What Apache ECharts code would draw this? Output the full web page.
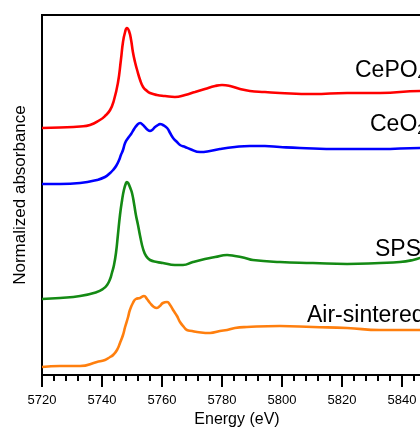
<!DOCTYPE html>
<html><head><meta charset="utf-8">
<script src="https://cdn.jsdelivr.net/npm/echarts@6/dist/echarts.min.js"></script>
<style>html,body{margin:0;padding:0;background:#fff}#c{width:420px;height:428px}</style>
</head><body><div id="c"></div>
<script>
// Energy (eV) and offset normalized absorbance (a.u.) for each spectrum
const cepo4Energy = [5720,5726,5732.7,5736,5739.3,5741,5742.7,5744,5745.3,5746.3,5747,5747.7,5748.3,5749,5749.7,5750.3,5751,5751.7,5752.7,5753.7,5755,5756,5758.3,5761,5764.3,5767.7,5771,5774.3,5777.7,5780,5782.7,5786,5789.3,5794.3,5799.3,5810.3,5821.7,5832.7,5846,5850];
const cepo4Abs = [2.47,2.475,2.485,2.50,2.55,2.59,2.65,2.75,2.92,3.15,3.33,3.43,3.47,3.44,3.35,3.23,3.13,3.05,2.95,2.88,2.84,2.82,2.80,2.79,2.78,2.80,2.83,2.86,2.89,2.90,2.89,2.86,2.84,2.83,2.82,2.81,2.82,2.82,2.84,2.84];

const ceo2Energy = [5720,5726,5732.7,5738.3,5741,5742.7,5743.7,5744.7,5745.7,5746.3,5747,5747.7,5748.7,5749.7,5750.7,5751.7,5752.7,5753.3,5754.3,5755.3,5756,5756.7,5757.7,5758.7,5759.3,5760.3,5761.7,5762.7,5763.7,5765,5766,5767.7,5769.3,5772.7,5776,5779.3,5784.3,5789.3,5794.3,5799.3,5806,5819.3,5832.7,5846,5850];
const ceo2Abs = [1.91,1.91,1.92,1.95,1.98,2.02,2.05,2.09,2.15,2.20,2.25,2.32,2.37,2.41,2.46,2.50,2.52,2.51,2.48,2.45,2.44,2.45,2.48,2.50,2.51,2.50,2.47,2.42,2.37,2.33,2.30,2.28,2.26,2.23,2.24,2.26,2.28,2.29,2.29,2.28,2.27,2.26,2.26,2.27,2.27];

const spsEnergy = [5720,5726,5732.7,5738.3,5740.3,5741.7,5742.7,5743.3,5744,5744.7,5745.3,5746,5746.7,5747.3,5748,5748.3,5748.7,5749.3,5750,5750.7,5751.3,5752,5752.7,5753.7,5754.7,5756,5758.3,5760.3,5764.3,5767,5770.3,5774.3,5777.7,5781.7,5784.3,5787.7,5790.3,5799.3,5810.3,5821.7,5832.7,5839.3,5843.7,5846,5850];
const spsAbs = [0.76,0.77,0.79,0.83,0.86,0.90,0.96,1.02,1.10,1.23,1.40,1.60,1.75,1.85,1.92,1.93,1.92,1.88,1.82,1.71,1.60,1.50,1.39,1.26,1.19,1.15,1.13,1.12,1.10,1.10,1.13,1.16,1.18,1.20,1.19,1.17,1.15,1.13,1.12,1.11,1.12,1.13,1.15,1.17,1.19];

const airEnergy = [5720,5726,5732.7,5738.3,5741,5742.7,5743.7,5745,5746,5747,5747.7,5748.7,5749.3,5750.3,5751.3,5752.7,5754,5755,5756,5757.3,5758.3,5759.3,5760.3,5761.7,5762.7,5763.7,5765,5766,5767.3,5768.3,5770,5771.7,5776,5779.3,5781.7,5784.3,5788.3,5799.3,5810.3,5821.7,5832.7,5846,5850];
const airAbs = [0.08,0.09,0.09,0.13,0.15,0.18,0.20,0.25,0.32,0.40,0.48,0.58,0.65,0.72,0.76,0.77,0.79,0.76,0.72,0.68,0.67,0.69,0.72,0.73,0.70,0.65,0.59,0.53,0.48,0.45,0.44,0.43,0.42,0.44,0.45,0.47,0.48,0.49,0.48,0.47,0.45,0.45,0.45];

const xTicks = {min: 5720, max: 5850, interval: 20};
const yRange = {min: 0, max: 3.6};
const labels = ['CePO4', 'CeO2', 'SPS', 'Air-sintered'];

const FONT = '"Liberation Sans", Arial, sans-serif';
const zip = (xs, ys) => xs.map((x, i) => [x, ys[i]]);

const chart = echarts.init(document.getElementById('c'), null, {renderer: 'canvas'});
const mk = (name, xs, ys, color) => ({
  name, type: 'line', data: zip(xs, ys), showSymbol: false, symbol: 'none',
  smooth: 0.5, lineStyle: {color, width: 2.6}, itemStyle: {color}, z: 3
});

chart.setOption({
  animation: false,
  backgroundColor: '#fff',
  grid: {left: 42, top: 15, width: 390, height: 360, outerBoundsMode: 'none', containLabel: false, show: false},
  xAxis: {
    type: 'value', min: xTicks.min, max: xTicks.max, interval: xTicks.interval, position: 'bottom',
    name: 'Energy (eV)', nameLocation: 'middle', nameGap: 35,
    nameTextStyle: {fontFamily: FONT, fontSize: 16, color: '#000'},
    axisLine: {show: true, onZero: false, lineStyle: {color: '#000', width: 2}},
    axisTick: {show: true, inside: false, length: 12, lineStyle: {color: '#000', width: 2}},
    minorTick: {show: true, splitNumber: 5, length: 6, lineStyle: {color: '#000', width: 2}},
    axisLabel: {fontFamily: FONT, fontSize: 13, color: '#000', margin: 19, showMaxLabel: false,
      formatter: v => String(v)},
    splitLine: {show: false}
  },
  yAxis: {
    type: 'value', min: yRange.min, max: yRange.max,
    name: 'Normalized absorbance', nameLocation: 'middle', nameGap: 13,
    nameTextStyle: {fontFamily: FONT, fontSize: 17, color: '#000'},
    axisLine: {show: true, lineStyle: {color: '#000', width: 2}},
    axisTick: {show: false}, axisLabel: {show: false}, splitLine: {show: false}
  },
  series: [
    mk(labels[0], cepo4Energy, cepo4Abs, '#ff0000'),
    mk(labels[1], ceo2Energy, ceo2Abs, '#0000ff'),
    mk(labels[2], spsEnergy, spsAbs, '#148a14'),
    mk(labels[3], airEnergy, airAbs, '#ff7f0e')
  ],
  graphic: [
    {type: 'text', left: 355, top: 59, z: 10, style: {text: '{a|CePO}{s|4}', rich: {a: {fontFamily: FONT, fontSize: 23, fill: '#000'}, s: {fontFamily: FONT, fontSize: 15, fill: '#000', padding: [10, 0, 0, 0]}}}},
    {type: 'text', left: 370, top: 113, z: 10, style: {text: '{a|CeO}{s|2}', rich: {a: {fontFamily: FONT, fontSize: 23, fill: '#000'}, s: {fontFamily: FONT, fontSize: 15, fill: '#000', padding: [10, 0, 0, 0]}}}},
    {type: 'text', left: 375, top: 238, z: 10, style: {text: labels[2], font: '23px ' + FONT, fill: '#000'}},
    {type: 'text', left: 307, top: 304, z: 10, style: {text: labels[3], font: '23px ' + FONT, fill: '#000'}}
  ]
});

// top frame line drawn from the axes' own scale
const p0 = chart.convertToPixel({gridIndex: 0}, [xTicks.min, yRange.max]);
const p1 = chart.convertToPixel({gridIndex: 0}, [xTicks.max, yRange.max]);
chart.setOption({graphic: [{type: 'line', id: 'topFrame', z: 10,
  shape: {x1: p0[0] - 1, y1: p0[1], x2: p1[0], y2: p1[1]},
  style: {stroke: '#000', lineWidth: 2}}]});
</script>
</body></html>
